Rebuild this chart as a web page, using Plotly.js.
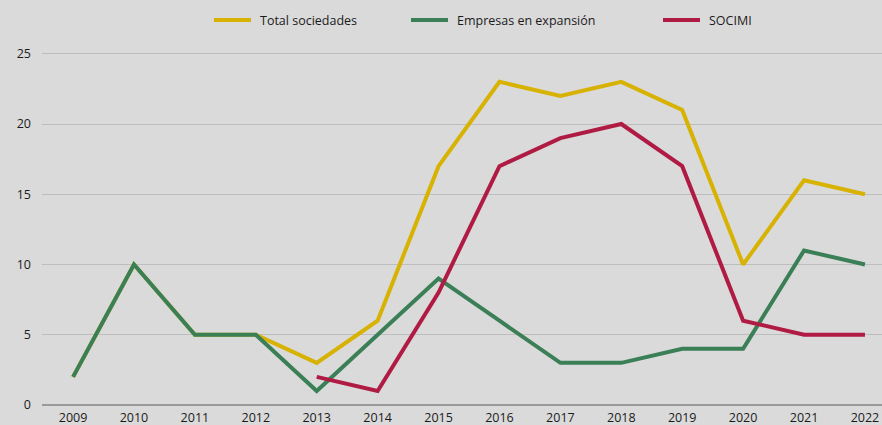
<!DOCTYPE html>
<html>
<head>
<meta charset="utf-8">
<script src="https://cdn.plot.ly/plotly-3.0.1.min.js"></script>
<style>html,body{margin:0;padding:0;background:#dadada;}#chart{width:882px;height:425px;}</style>
</head>
<body>
<div id="chart"></div>
<script>
const years = [2009, 2010, 2011, 2012, 2013, 2014, 2015, 2016, 2017, 2018, 2019, 2020, 2021, 2022];
const totalSociedades = [2, 10, 5, 5, 3, 6, 17, 23, 22, 23, 21, 10, 16, 15];
const empresasExpansion = [2, 10, 5, 5, 1, 5, 9, 6, 3, 3, 4, 4, 11, 10];
const socimi = [null, null, null, null, 2, 1, 8, 17, 19, 20, 17, 6, 5, 5];
const seriesNames = ['Total sociedades', 'Empresas en expansión', 'SOCIMI'];
const yTicks = [0, 5, 10, 15, 20, 25];

const colors = ['#d7b200', '#3b7f57', '#b01b44'];
const font = "'Open Sans', 'Noto Sans', sans-serif";
const traces = [
  {x: years, y: totalSociedades, name: seriesNames[0], type: 'scatter', mode: 'lines', line: {color: colors[0], width: 4}},
  {x: years, y: empresasExpansion, name: seriesNames[1], type: 'scatter', mode: 'lines', line: {color: colors[1], width: 4}},
  {x: years, y: socimi, name: seriesNames[2], type: 'scatter', mode: 'lines', line: {color: colors[2], width: 4}, connectgaps: false}
];

// manual legend placement (pixels -> paper)
const W = 882, H = 425, mL = 42, mR = 0, mT = 40, mB = 20;
const pw = W - mL - mR, ph = H - mT - mB;
const px = v => (v - mL) / pw;
const py = v => (H - mB - v) / ph;
const legendLineStart = [214, 411, 663];
const legendY = 20;
const shapes = [], annotations = [];
seriesNames.forEach((n, i) => {
  shapes.push({type: 'line', xref: 'paper', yref: 'paper', x0: px(legendLineStart[i]), x1: px(legendLineStart[i] + 37), y0: py(legendY), y1: py(legendY), line: {color: colors[i], width: 4}});
  annotations.push({xref: 'paper', yref: 'paper', x: px(legendLineStart[i] + 44), y: py(legendY), xanchor: 'left', yanchor: 'middle', text: n, showarrow: false, font: {size: 12.5, family: font, color: '#1a1a1a'}});
});

const layout = {
  width: W, height: H,
  paper_bgcolor: '#dadada', plot_bgcolor: '#dadada',
  margin: {l: mL, r: mR, t: mT, b: mB},
  font: {family: font, size: 12.5, color: '#1a1a1a'},
  showlegend: false,
  shapes: shapes, annotations: annotations,
  xaxis: {range: [2008.49, 2022.28], tickvals: years, ticktext: years.map(String), showgrid: false, zeroline: false, showline: false, ticks: '', ticklabelstandoff: 3, fixedrange: true},
  yaxis: {range: [0, 25.98], tickvals: yTicks, showgrid: true, gridcolor: '#bdbdbd', gridwidth: 1, zeroline: true, zerolinecolor: '#9a9a9a', zerolinewidth: 1.5, showline: false, ticks: '', ticklabelstandoff: 10, fixedrange: true}
};
Plotly.newPlot('chart', traces, layout, {displayModeBar: false, staticPlot: true});
</script>
</body>
</html>
